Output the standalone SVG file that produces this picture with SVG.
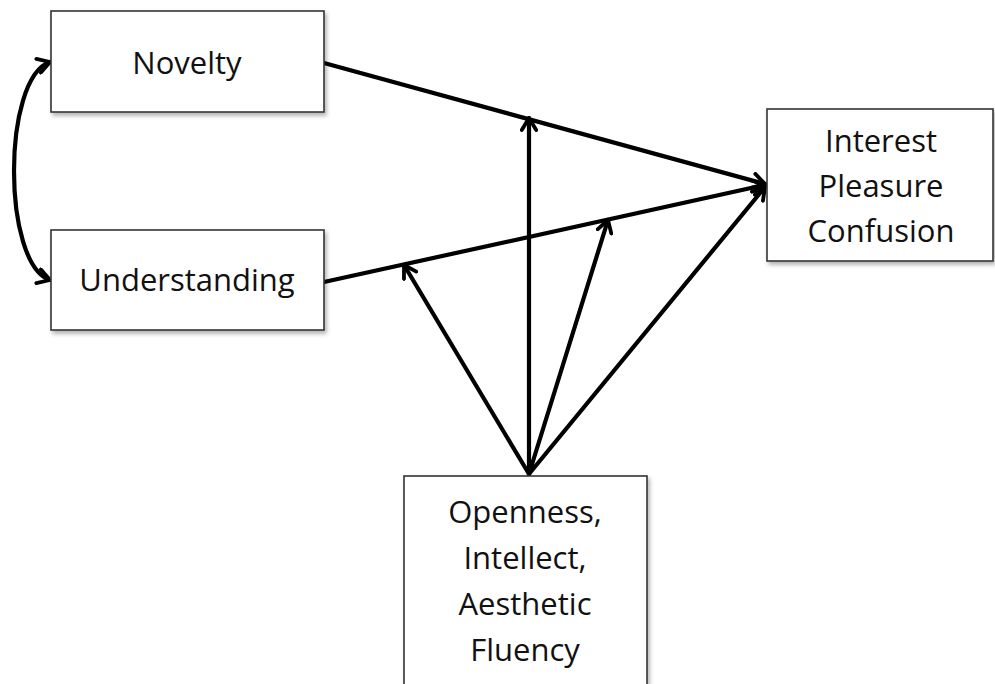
<svg xmlns="http://www.w3.org/2000/svg" width="995" height="684" viewBox="0 0 995 684">
  <style>
    .box { fill: #ffffff; stroke: #333333; stroke-width: 1.6; filter: url(#shadow); }
    .label { font-family: "Open Sans", "Noto Sans", "Liberation Sans", sans-serif; font-size: 31px; fill: #111111; text-anchor: middle; }
    .link { fill: none; stroke: #000000; stroke-width: 4.2; stroke-linecap: round; }
  </style>
  <defs>
    <filter id="shadow" x="-10%" y="-10%" width="130%" height="130%">
      <feDropShadow dx="2" dy="3" stdDeviation="2" flood-color="#000000" flood-opacity="0.3"/>
    </filter>
    <marker id="arrow" viewBox="0 0 16 18" refX="14" refY="9" markerWidth="16" markerHeight="18" markerUnits="userSpaceOnUse" orient="auto-start-reverse">
      <path d="M2,1.8 L14,9 L2,16.2" fill="none" stroke="#000000" stroke-width="3.8" stroke-linecap="round" stroke-linejoin="round"/>
    </marker>
  </defs>

  <g id="connectors">
    <!-- direct effects into the outcome box -->
    <line class="link" x1="324" y1="63" x2="765" y2="184" marker-end="url(#arrow)"/>
    <line class="link" x1="324" y1="282" x2="765" y2="185" marker-end="url(#arrow)"/>
    <!-- moderator fan from the trait box -->
    <line class="link" x1="529" y1="474" x2="529" y2="118" marker-end="url(#arrow)"/>
    <line class="link" x1="529" y1="474" x2="404" y2="265" marker-end="url(#arrow)"/>
    <line class="link" x1="529" y1="474" x2="608" y2="220" marker-end="url(#arrow)"/>
    <line class="link" x1="529" y1="474" x2="765" y2="187" marker-end="url(#arrow)"/>
    <!-- covariance between the two predictors -->
    <path class="link" d="M50,62 C2,78 2,264 50,280" marker-start="url(#arrow)" marker-end="url(#arrow)"/>
  </g>

  <g id="novelty">
    <rect class="box" x="51" y="11" width="273" height="101"/>
    <text class="label" x="187" y="74">Novelty</text>
  </g>

  <g id="understanding">
    <rect class="box" x="51" y="230" width="273" height="100"/>
    <text class="label" x="187" y="291">Understanding</text>
  </g>

  <g id="outcomes">
    <rect class="box" x="767" y="109" width="226" height="152"/>
    <text class="label" x="881" y="152">Interest</text>
    <text class="label" x="881" y="197">Pleasure</text>
    <text class="label" x="881" y="242">Confusion</text>
  </g>

  <g id="traits">
    <rect class="box" x="404" y="476" width="243" height="230"/>
    <text class="label" x="525" y="523">Openness,</text>
    <text class="label" x="525" y="569">Intellect,</text>
    <text class="label" x="525" y="615">Aesthetic</text>
    <text class="label" x="525" y="661">Fluency</text>
  </g>
</svg>
